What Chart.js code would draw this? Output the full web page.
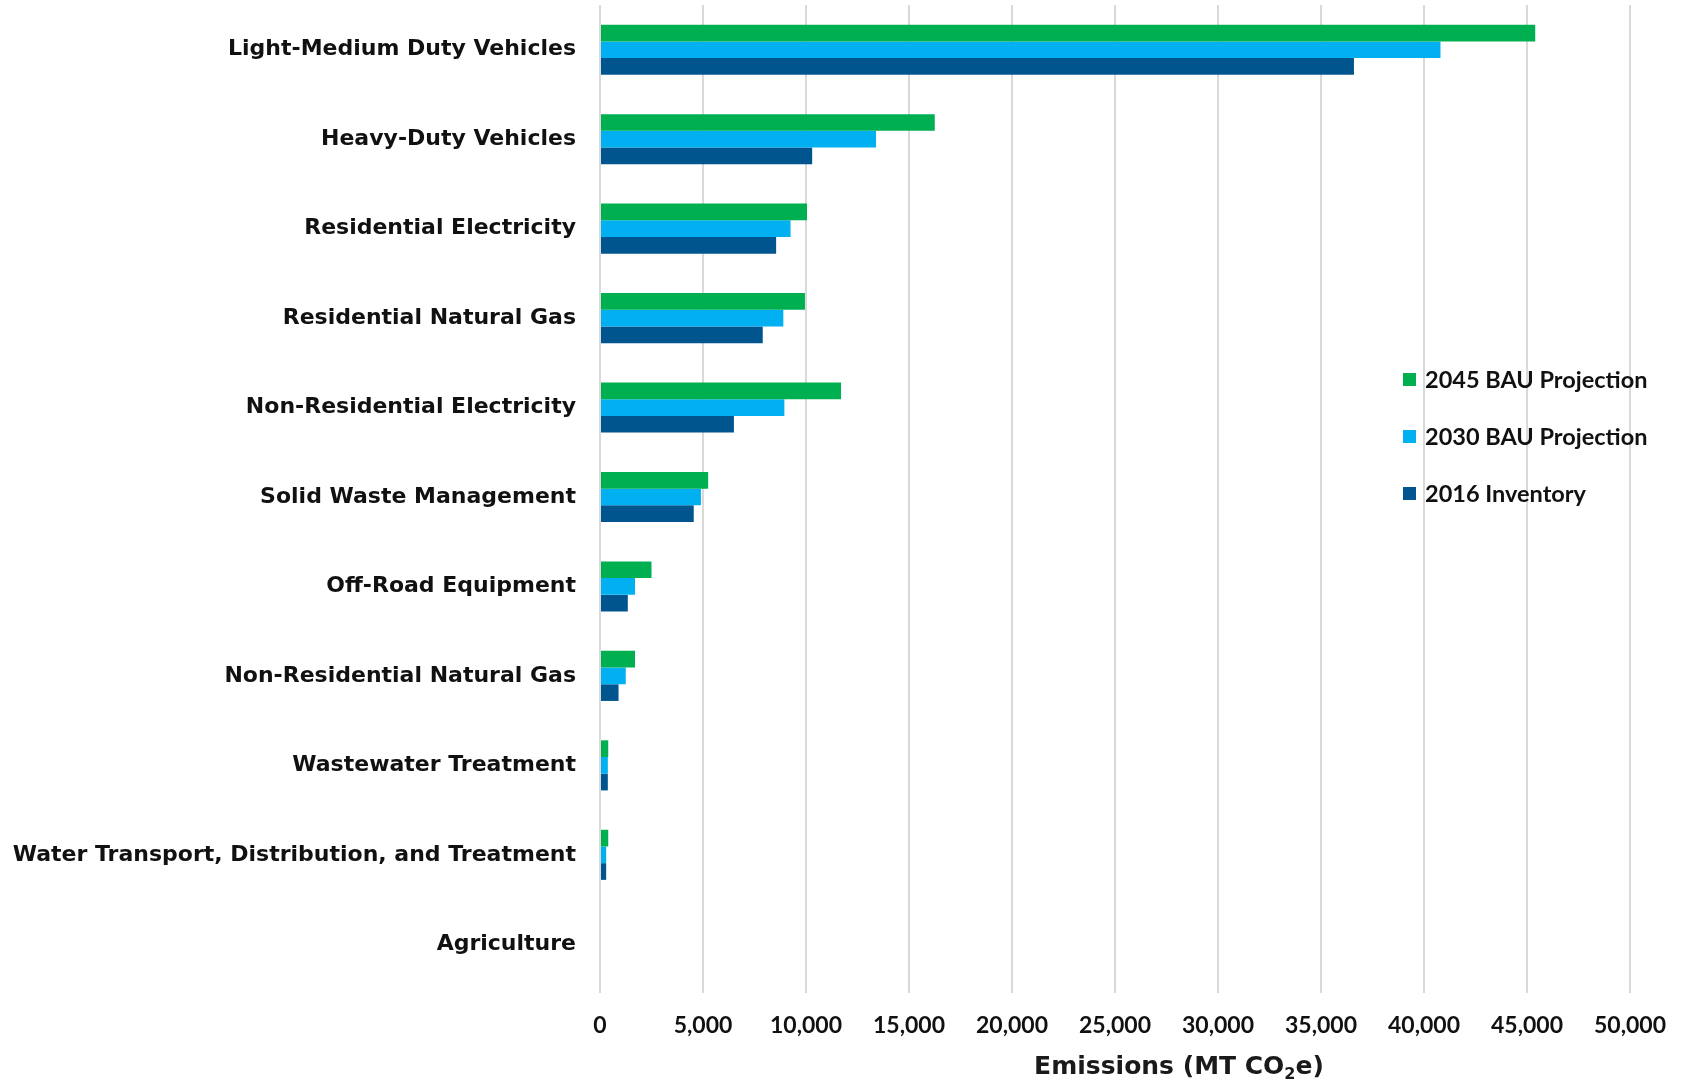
<!DOCTYPE html>
<html>
<head>
<meta charset="utf-8">
<title>Emissions by sector</title>
<script src="https://cdn.jsdelivr.net/npm/chart.js@4/dist/chart.umd.min.js"></script>
<style>
  body { margin: 0; background: #fff; }
  #emissions-chart { display: block; }
</style>
</head>
<body>
<canvas id="emissions-chart" width="1681" height="1082"></canvas>
<script>
// sectors, top to bottom
var sectors = [
  "Light-Medium Duty Vehicles",
  "Heavy-Duty Vehicles",
  "Residential Electricity",
  "Residential Natural Gas",
  "Non-Residential Electricity",
  "Solid Waste Management",
  "Off-Road Equipment",
  "Non-Residential Natural Gas",
  "Wastewater Treatment",
  "Water Transport, Distribution, and Treatment",
  "Agriculture"
];

// MT CO2e per sector
var bau2045 = [45400, 16250, 10050, 9950, 11700, 5250, 2500, 1700, 400, 400, 0];
var bau2030 = [40800, 13400, 9250, 8900, 8950, 4900, 1700, 1250, 380, 300, 0];
var inv2016 = [36600, 10300, 8550, 7900, 6500, 4550, 1350, 900, 380, 300, 0];

var xMax = 50000;
var xStep = 5000;

var seriesColors = ["#00b050", "#00b0f0", "#01558f"];

// legend sits inside the plot, on the right
var insideLegend = {
  id: "insideLegend",
  afterDraw: function(chart) {
    var ctx = chart.ctx;
    ctx.save();
    ctx.font = "bold 23.5px Lato";
    ctx.textBaseline = "middle";
    ctx.textAlign = "left";
    chart.data.datasets.forEach(function(ds, i) {
      var y = 380 + i * 57;
      ctx.fillStyle = ds.backgroundColor;
      ctx.fillRect(1403, y - 7, 13, 13);
      ctx.fillStyle = "#111";
      ctx.fillText(ds.label, 1425, y);
    });
    ctx.restore();
  }
};

// x axis title with subscript 2
var axisTitle = {
  id: "axisTitle",
  afterDraw: function(chart) {
    var ctx = chart.ctx;
    var a = "Emissions (MT CO", sub = "2", b = "e)";
    var big = "bold 25px 'DejaVu Sans'", small = "bold 16px 'DejaVu Sans'";
    ctx.save();
    ctx.fillStyle = "#1a1a1a";
    ctx.textBaseline = "alphabetic";
    ctx.textAlign = "left";
    ctx.font = big;
    var wa = ctx.measureText(a).width, wb = ctx.measureText(b).width;
    ctx.font = small;
    var ws = ctx.measureText(sub).width;
    var x = 1179 - (wa + ws + wb) / 2;
    var base = 1074;
    ctx.font = big;
    ctx.fillText(a, x, base);
    ctx.font = small;
    ctx.fillText(sub, x + wa, base + 5);
    ctx.font = big;
    ctx.fillText(b, x + wa + ws, base);
    ctx.restore();
  }
};

new Chart(document.getElementById("emissions-chart"), {
  type: "bar",
  data: {
    labels: sectors,
    datasets: [
      { label: "2045 BAU Projection", data: bau2045, backgroundColor: seriesColors[0] },
      { label: "2030 BAU Projection", data: bau2030, backgroundColor: seriesColors[1] },
      { label: "2016 Inventory", data: inv2016, backgroundColor: seriesColors[2] }
    ]
  },
  options: {
    indexAxis: "y",
    responsive: false,
    animation: false,
    devicePixelRatio: 1,
    layout: { padding: { top: 5, right: 51, left: 0, bottom: 0 } },
    datasets: {
      bar: { categoryPercentage: 0.56, barPercentage: 1.0, borderWidth: 0 }
    },
    scales: {
      x: {
        min: 0,
        max: xMax,
        grid: { color: "#d9d9d9", lineWidth: 2, drawTicks: true, tickLength: 4, tickColor: "#d9d9d9" },
        border: { display: false },
        ticks: {
          stepSize: xStep,
          autoSkip: false,
          maxRotation: 0,
          padding: 19,
          color: "#111",
          font: { family: "Lato", size: 23, weight: "bold" },
          callback: function(v) { return v.toLocaleString("en-US"); }
        },
        afterFit: function(scale) {
          scale.height = 93;
          scale.paddingLeft = 0;
          scale.paddingRight = 0;
        }
      },
      y: {
        grid: { display: false, drawTicks: false },
        border: { display: false },
        ticks: {
          padding: 24,
          autoSkip: false,
          color: "#111",
          font: { family: "DejaVu Sans", size: 22, weight: "bold" }
        },
        afterFit: function(scale) {
          scale.width = 600;
          // tick padding would otherwise push the plot down
          scale.paddingTop = 0;
          scale.paddingBottom = 0;
        }
      }
    },
    plugins: {
      legend: { display: false },
      tooltip: { enabled: false }
    }
  },
  plugins: [insideLegend, axisTitle]
});
</script>
</body>
</html>
